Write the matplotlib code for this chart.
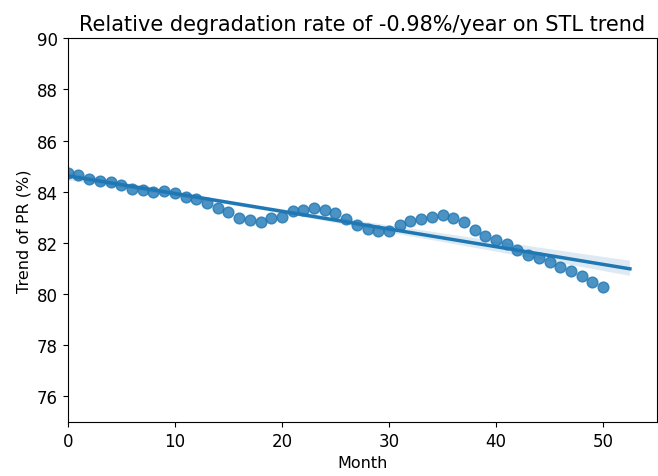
import matplotlib
matplotlib.use("Agg")
import matplotlib.pyplot as plt
import numpy as np
import pandas as pd
import seaborn as sns

# STL trend of PR, one value per month
month = list(range(51))
trend_pr = [84.74, 84.67, 84.5, 84.4, 84.36, 84.27, 84.1, 84.08, 84.0, 84.04,
            83.95, 83.8, 83.7, 83.55, 83.38, 83.19, 82.97, 82.9, 82.8, 82.97,
            83.03, 83.23, 83.3, 83.38, 83.28, 83.15, 82.92, 82.69, 82.54, 82.48,
            82.48, 82.7, 82.84, 82.93, 83.0, 83.1, 82.97, 82.8, 82.5, 82.27,
            82.12, 81.96, 81.73, 81.53, 81.4, 81.27, 81.05, 80.92, 80.7, 80.48,
            80.26]

df = pd.DataFrame({"Month": month, "Trend of PR (%)": trend_pr})

fig = plt.figure(figsize=(6.58, 4.77), dpi=100)
ax = fig.add_axes([0.103, 0.113, 0.895, 0.805])

sns.regplot(x="Month", y="Trend of PR (%)", data=df, ax=ax, truncate=False,
            scatter_kws={"s": 60}, line_kws={"lw": 2.5})

ax.set_xlim(0, 55)
ax.set_ylim(75, 90)
ax.set_yticks([76, 78, 80, 82, 84, 86, 88, 90])
ax.tick_params(labelsize=12)
ax.set_xlabel("Month", fontsize=11.5)
ax.set_ylabel("Trend of PR (%)", fontsize=11.5)
ax.set_title("Relative degradation rate of -0.98%/year on STL trend", fontsize=15)

fig.savefig("out.png", dpi=100)
